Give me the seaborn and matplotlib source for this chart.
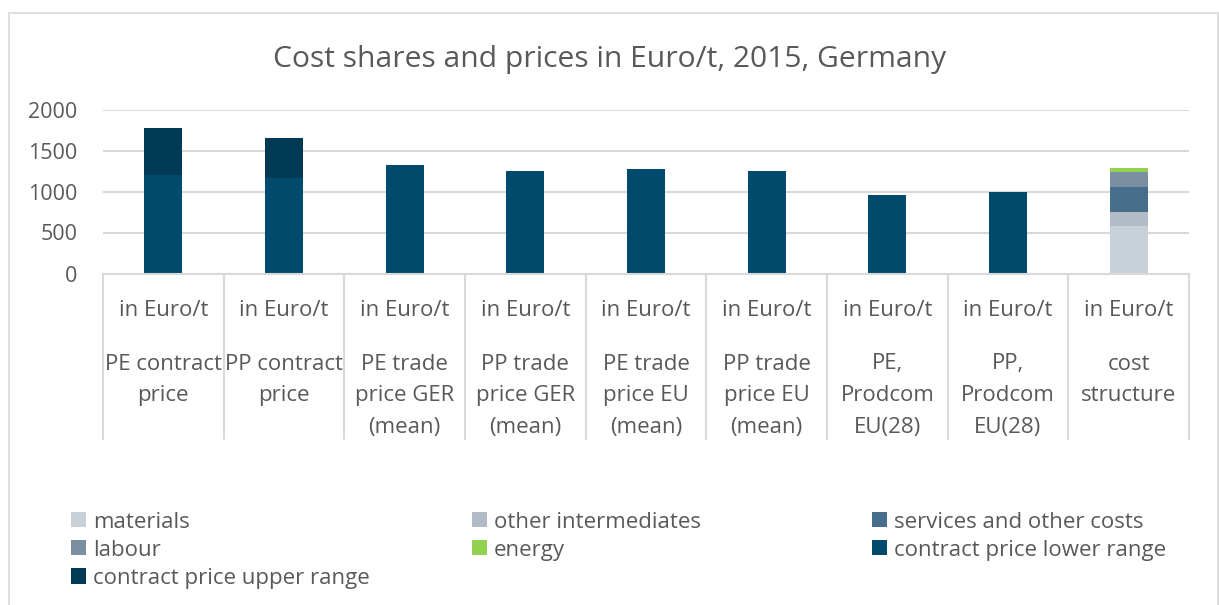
import matplotlib.pyplot as plt
import numpy as np
import pandas as pd
import seaborn as sns
from matplotlib.patches import Patch, Rectangle
from matplotlib.transforms import blended_transform_factory

categories = [
    "PE contract price",
    "PP contract price",
    "PE trade price GER (mean)",
    "PP trade price GER (mean)",
    "PE trade price EU (mean)",
    "PP trade price EU (mean)",
    "PE, Prodcom EU(28)",
    "PP, Prodcom EU(28)",
    "cost structure",
]
category_lines = [
    "PE contract\nprice",
    "PP contract\nprice",
    "PE trade\nprice GER\n(mean)",
    "PP trade\nprice GER\n(mean)",
    "PE trade\nprice EU\n(mean)",
    "PP trade\nprice EU\n(mean)",
    "PE,\nProdcom\nEU(28)",
    "PP,\nProdcom\nEU(28)",
    "cost\nstructure",
]
unit_label = "in Euro/t"

materials = [0, 0, 0, 0, 0, 0, 0, 0, 575]
other_intermediates = [0, 0, 0, 0, 0, 0, 0, 0, 180]
services = [0, 0, 0, 0, 0, 0, 0, 0, 305]
labour = [0, 0, 0, 0, 0, 0, 0, 0, 175]
energy = [0, 0, 0, 0, 0, 0, 0, 0, 55]
lower_range = [1200, 1165, 1325, 1245, 1275, 1245, 960, 990, 0]
upper_range = [570, 490, 0, 0, 0, 0, 0, 0, 0]

series = {
    "materials": materials,
    "other intermediates": other_intermediates,
    "services and other costs": services,
    "labour": labour,
    "energy": energy,
    "contract price lower range": lower_range,
    "contract price upper range": upper_range,
}
colors = {
    "materials": "#c9d1d8",
    "other intermediates": "#b1bcc6",
    "services and other costs": "#476e8b",
    "labour": "#7a8fa2",
    "energy": "#92d050",
    "contract price lower range": "#004b6b",
    "contract price upper range": "#003a55",
}

sns.set_theme(style="white")
plt.rcParams["font.family"] = ["Open Sans", "DejaVu Sans"]
text_color = "#595959"
grid_color = "#d9d9d9"
label_size = 16

df = pd.DataFrame(series, index=categories)
cum = df.cumsum(axis=1)

fig = plt.figure(figsize=(12.19, 6.05), dpi=100)
ax = fig.add_axes([103 / 1219, 1 - 273.5 / 605, 1086 / 1219, 164 / 605])

# stacked bars: draw cumulative totals from the top layer down
for name in reversed(list(series.keys())):
    plot_df = pd.DataFrame({"category": categories, "value": cum[name].values})
    sns.barplot(
        data=plot_df,
        x="category",
        y="value",
        order=categories,
        color=colors[name],
        width=0.315,
        saturation=1,
        linewidth=0,
        ax=ax,
    )

ax.set_xlim(-0.5, len(categories) - 0.5)
ax.set_ylim(0, 2000)
ax.set_yticks([0, 500, 1000, 1500, 2000])
ax.yaxis.grid(True, color=grid_color, linewidth=1.5)
ax.set_axisbelow(True)
ax.tick_params(axis="y", length=0, pad=18.5, labelsize=15.5, labelcolor=text_color)
ax.set_xticks([])
ax.set_xlabel("")
ax.set_ylabel("")
for side in ["left", "right", "top"]:
    ax.spines[side].set_visible(False)
ax.spines["bottom"].set_color(grid_color)
ax.spines["bottom"].set_linewidth(1.5)

# multi-level category axis
trans = blended_transform_factory(ax.transData, ax.transAxes)
px = 1 / 164
for i in range(len(categories) + 1):
    ax.plot([i - 0.5, i - 0.5], [0, -166 * px], transform=trans,
            color=grid_color, linewidth=1.5, clip_on=False)
for i, lines in enumerate(category_lines):
    ax.text(i, -37 * px, unit_label, transform=trans, ha="center", va="center",
            fontsize=label_size, color=text_color)
    ax.text(i, -80 * px, lines, transform=trans, ha="center", va="top",
            fontsize=label_size, color=text_color, linespacing=1.67)

fig.text(0.5, 1 - 59 / 605, "Cost shares and prices in Euro/t, 2015, Germany",
         ha="center", va="center", fontsize=21.6, color=text_color)

# legend laid out in three columns
legend_cols = [
    ["materials", "labour", "contract price upper range"],
    ["other intermediates", "energy"],
    ["services and other costs", "contract price lower range"],
]
col_x = [71, 472, 872]
for names, x0 in zip(legend_cols, col_x):
    handles = [Patch(facecolor=colors[n], edgecolor="none") for n in names]
    leg = fig.legend(
        handles, names,
        loc="upper left",
        bbox_to_anchor=(x0 / 1219, 1 - 511.5 / 605),
        frameon=False,
        fontsize=label_size,
        handlelength=0.68,
        handleheight=0.68,
        handletextpad=0.32,
        labelspacing=0.32,
        borderpad=0,
        borderaxespad=0,
    )
    for t in leg.get_texts():
        t.set_color(text_color)

fig.patches.append(Rectangle((9 / 1219, -0.1), 1209 / 1219, 1.1 - 13 / 605,
                             transform=fig.transFigure, fill=False,
                             edgecolor=grid_color, linewidth=1.2))

fig.savefig("out.png", dpi=100, facecolor="white")
